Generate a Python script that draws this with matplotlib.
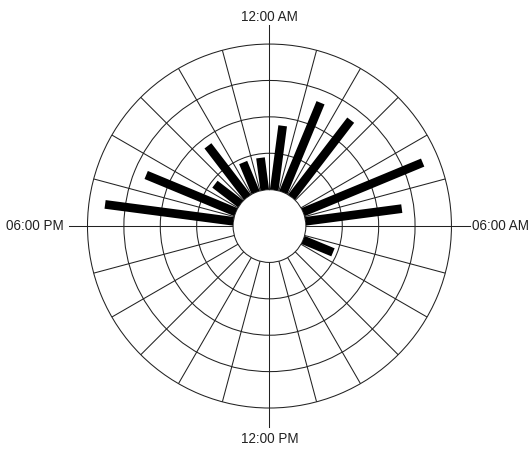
import numpy as np
import matplotlib
matplotlib.use("Agg")
import matplotlib.pyplot as plt

# Events per hour of day (hour 0 = midnight)
hours = list(range(24))
counts = [2, 3, 3, 0, 4, 3, 0, 1, 0, 0, 0, 0,
          0, 0, 0, 0, 0, 0, 4, 3, 1, 2, 1, 1]
tick_hours = [0, 6, 12, 18]
tick_labels = ["12:00 AM", "06:00 AM", "12:00 PM", "06:00 PM"]
r_max = 4.5

plt.rcParams["font.family"] = ["Liberation Sans", "DejaVu Sans"]

fig = plt.figure(figsize=(5.29, 4.51), dpi=100)
ax = fig.add_axes([0.1654, 0.0953, 0.688, 0.807], projection="polar")

ax.set_theta_zero_location("N")
ax.set_theta_direction(-1)
ax.set_ylim(0, r_max)
ax.set_rorigin(-r_max / 4)

line_col = "#222222"

# angular grid: a spoke every hour
hour_angle = 2 * np.pi / 24
ax.set_xticks([h * hour_angle for h in hours])
ax.set_xticklabels([])
ax.xaxis.grid(True, color=line_col, linewidth=0.75)
ax.tick_params(axis="x", length=0)

# radial rings
ax.set_yticks([r_max / 4 * k for k in (1, 2, 3)])
ax.set_yticklabels([])
ax.yaxis.grid(True, color=line_col, linewidth=0.75)
ax.tick_params(axis="y", length=0)

for name in ("polar", "inner"):
    ax.spines[name].set_color(line_col)
    ax.spines[name].set_linewidth(0.75)
for name in ("start", "end"):
    ax.spines[name].set_visible(False)

# outward tick marks and labels every six hours
tick_ext = 0.58
label_style = {
    0: dict(xytext=(0, 19.8), ha="center", va="center"),
    6: dict(xytext=(14.6, 0), ha="left", va="center"),
    12: dict(xytext=(0, -22.3), ha="center", va="center"),
    18: dict(xytext=(-17.0, 0), ha="right", va="center"),
}
for h, lab in zip(tick_hours, tick_labels):
    a = h * hour_angle
    ax.plot([a, a], [r_max, r_max + tick_ext], color=line_col,
            linewidth=0.75, clip_on=False)
    ax.annotate(lab, xy=(a, r_max), textcoords="offset points",
                fontsize=9.75, color="#222222", annotation_clip=False,
                **label_style[h])

# one bar per hour, centred in its hour slot
theta = [(h + 0.5) * hour_angle for h, c in zip(hours, counts) if c > 0]
vals = [c for c in counts if c > 0]
ax.vlines(theta, 0, vals, colors="black", linewidth=6.25,
          capstyle="butt", zorder=3)

fig.savefig("out.png", dpi=100, facecolor="white")
